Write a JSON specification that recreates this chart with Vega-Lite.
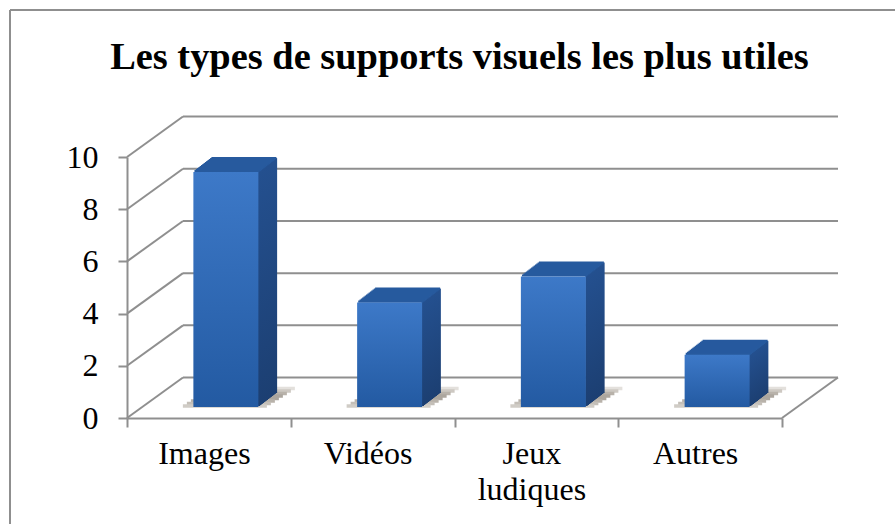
{
"$schema":"https://vega.github.io/schema/vega-lite/v6.json",
"width":655,"height":261,"autosize":"none",
"padding":{"left":127,"top":157,"right":113,"bottom":106},
"background":"white",
"config":{"view":{"stroke":null},"axisY":{"tickCount":6,"grid":false,"domainColor":"#8f8f8f","domainWidth":2,"tickColor":"#8f8f8f","tickWidth":2,"tickSize":9,"labelFont":"Liberation Serif","labelFontSize":32,"labelColor":"#000000","labelPadding":20}},
"title":{"text":"Les types de supports visuels les plus utiles","font":"Liberation Serif","fontSize":38.4,"fontWeight":"bold","color":"#000000","anchor":"middle","offset":-68,"dx":5},
"layer":[
{"data":{"values":[{}]},"mark":{"type":"rule","color":"#8f8f8f","strokeWidth":2},"encoding":{"x":{"value":-117},"x2":{"value":768},"y":{"value":-147}}},
{"data":{"values":[{}]},"mark":{"type":"rule","color":"#8f8f8f","strokeWidth":2},"encoding":{"x":{"value":-117},"y":{"value":-147},"y2":{"value":367}}},
{"data":{"name":"grid","values":[{"tick":0,"back":1.55},{"tick":2,"back":3.55},{"tick":4,"back":5.55},{"tick":6,"back":7.55},{"tick":8,"back":9.55},{"tick":10,"back":11.55}]},
"mark":{"type":"rule","color":"#8f8f8f","strokeWidth":2},
"encoding":{"x":{"value":56},"x2":{"value":711},"y":{"field":"back","type":"quantitative","title":null,"scale":{"domain":[0,10],"nice":false}}}},
{"data":{"name":"grid"},"mark":{"type":"rule","color":"#8f8f8f","strokeWidth":2},"encoding":{"x":{"value":0},"x2":{"value":56},"y":{"field":"tick","type":"quantitative","title":null},"y2":{"field":"back"}}},
{"data":{"values":[{"tick":0,"back":1.55}]},"mark":{"type":"rule","color":"#8f8f8f","strokeWidth":2},"encoding":{"x":{"value":655},"x2":{"value":711},"y":{"field":"tick","type":"quantitative","title":null},"y2":{"field":"back"}}},
{"data":{"values":[{"category":"Images","value":9},{"category":"Vidéos","value":4},{"category":"Jeux ludiques","value":5},{"category":"Autres","value":2}]},
"encoding":{"x":{"field":"category","type":"nominal","sort":null,"scale":{"padding":0},
"axis":{"title":null,"labelAngle":0,"labelAlign":"center","labelFont":"Liberation Serif","labelFontSize":32,"labelColor":"#000000","labelPadding":11,"labelLineHeight":36,"labelOffset":-5,"tickBand":"extent","tickColor":"#8f8f8f","tickWidth":2,"tickSize":9,"domainColor":"#8f8f8f","domainWidth":2,"labelExpr":"datum.label == 'Jeux ludiques' ? ['Jeux','ludiques'] : datum.label"}},
"y":{"field":"value","type":"quantitative","title":null}},
"layer":[
{"mark":{"type":"tick","orient":"horizontal","size":84,"thickness":3.5,"opacity":1,"color":"#e3e0dc","xOffset":44,"yOffset":-29.5},"encoding":{"y":{"datum":0,"title":null}}},
{"mark":{"type":"tick","orient":"horizontal","size":84,"thickness":3.5,"opacity":1,"color":"#cdc8c2","xOffset":40,"yOffset":-27},"encoding":{"y":{"datum":0,"title":null}}},
{"mark":{"type":"tick","orient":"horizontal","size":84,"thickness":3.5,"opacity":1,"color":"#b8b2aa","xOffset":36,"yOffset":-24.5},"encoding":{"y":{"datum":0,"title":null}}},
{"mark":{"type":"tick","orient":"horizontal","size":84,"thickness":3.5,"opacity":1,"color":"#aca69e","xOffset":32,"yOffset":-22},"encoding":{"y":{"datum":0,"title":null}}},
{"mark":{"type":"tick","orient":"horizontal","size":84,"thickness":3.5,"opacity":1,"color":"#aca69e","xOffset":28,"yOffset":-19.5},"encoding":{"y":{"datum":0,"title":null}}},
{"mark":{"type":"tick","orient":"horizontal","size":84,"thickness":3.5,"opacity":1,"color":"#b8b2aa","xOffset":24,"yOffset":-17},"encoding":{"y":{"datum":0,"title":null}}},
{"mark":{"type":"tick","orient":"horizontal","size":84,"thickness":3.5,"opacity":1,"color":"#c4bfb8","xOffset":20,"yOffset":-14.5},"encoding":{"y":{"datum":0,"title":null}}},
{"mark":{"type":"tick","orient":"horizontal","size":84,"thickness":3.5,"opacity":1,"color":"#d0ccc6","xOffset":16,"yOffset":-12},"encoding":{"y":{"datum":0,"title":null}}},
{"mark":{"type":"bar","size":2.5,"xOffset":67,"yOffset":-25,"fill":{"x1":0,"y1":0,"x2":0,"y2":1,"gradient":"linear","stops":[{"offset":0,"color":"#24508f"},{"offset":1,"color":"#1c3f72"}]}}},
{"mark":{"type":"bar","size":2.5,"xOffset":65.7,"yOffset":-24,"fill":{"x1":0,"y1":0,"x2":0,"y2":1,"gradient":"linear","stops":[{"offset":0,"color":"#24508f"},{"offset":1,"color":"#1c3f72"}]}}},
{"mark":{"type":"bar","size":2.5,"xOffset":64.4,"yOffset":-23,"fill":{"x1":0,"y1":0,"x2":0,"y2":1,"gradient":"linear","stops":[{"offset":0,"color":"#24508f"},{"offset":1,"color":"#1c3f72"}]}}},
{"mark":{"type":"bar","size":2.5,"xOffset":63.1,"yOffset":-22,"fill":{"x1":0,"y1":0,"x2":0,"y2":1,"gradient":"linear","stops":[{"offset":0,"color":"#24508f"},{"offset":1,"color":"#1c3f72"}]}}},
{"mark":{"type":"bar","size":2.5,"xOffset":61.8,"yOffset":-21,"fill":{"x1":0,"y1":0,"x2":0,"y2":1,"gradient":"linear","stops":[{"offset":0,"color":"#24508f"},{"offset":1,"color":"#1c3f72"}]}}},
{"mark":{"type":"bar","size":2.5,"xOffset":60.5,"yOffset":-20,"fill":{"x1":0,"y1":0,"x2":0,"y2":1,"gradient":"linear","stops":[{"offset":0,"color":"#24508f"},{"offset":1,"color":"#1c3f72"}]}}},
{"mark":{"type":"bar","size":2.5,"xOffset":59.2,"yOffset":-19,"fill":{"x1":0,"y1":0,"x2":0,"y2":1,"gradient":"linear","stops":[{"offset":0,"color":"#24508f"},{"offset":1,"color":"#1c3f72"}]}}},
{"mark":{"type":"bar","size":2.5,"xOffset":57.9,"yOffset":-18,"fill":{"x1":0,"y1":0,"x2":0,"y2":1,"gradient":"linear","stops":[{"offset":0,"color":"#24508f"},{"offset":1,"color":"#1c3f72"}]}}},
{"mark":{"type":"bar","size":2.5,"xOffset":56.6,"yOffset":-17,"fill":{"x1":0,"y1":0,"x2":0,"y2":1,"gradient":"linear","stops":[{"offset":0,"color":"#24508f"},{"offset":1,"color":"#1c3f72"}]}}},
{"mark":{"type":"bar","size":2.5,"xOffset":55.3,"yOffset":-16,"fill":{"x1":0,"y1":0,"x2":0,"y2":1,"gradient":"linear","stops":[{"offset":0,"color":"#24508f"},{"offset":1,"color":"#1c3f72"}]}}},
{"mark":{"type":"bar","size":2.5,"xOffset":54,"yOffset":-15,"fill":{"x1":0,"y1":0,"x2":0,"y2":1,"gradient":"linear","stops":[{"offset":0,"color":"#24508f"},{"offset":1,"color":"#1c3f72"}]}}},
{"mark":{"type":"bar","size":2.5,"xOffset":52.7,"yOffset":-14,"fill":{"x1":0,"y1":0,"x2":0,"y2":1,"gradient":"linear","stops":[{"offset":0,"color":"#24508f"},{"offset":1,"color":"#1c3f72"}]}}},
{"mark":{"type":"bar","size":2.5,"xOffset":51.4,"yOffset":-13,"fill":{"x1":0,"y1":0,"x2":0,"y2":1,"gradient":"linear","stops":[{"offset":0,"color":"#24508f"},{"offset":1,"color":"#1c3f72"}]}}},
{"mark":{"type":"bar","size":2.5,"xOffset":50.1,"yOffset":-12,"fill":{"x1":0,"y1":0,"x2":0,"y2":1,"gradient":"linear","stops":[{"offset":0,"color":"#24508f"},{"offset":1,"color":"#1c3f72"}]}}},
{"mark":{"type":"tick","orient":"horizontal","size":65,"thickness":2.2,"opacity":1,"color":"#275a9e","xOffset":35,"yOffset":-25}},
{"mark":{"type":"tick","orient":"horizontal","size":65,"thickness":2.2,"opacity":1,"color":"#275a9e","xOffset":33.7,"yOffset":-24}},
{"mark":{"type":"tick","orient":"horizontal","size":65,"thickness":2.2,"opacity":1,"color":"#275a9e","xOffset":32.4,"yOffset":-23}},
{"mark":{"type":"tick","orient":"horizontal","size":65,"thickness":2.2,"opacity":1,"color":"#275a9e","xOffset":31.1,"yOffset":-22}},
{"mark":{"type":"tick","orient":"horizontal","size":65,"thickness":2.2,"opacity":1,"color":"#275a9e","xOffset":29.8,"yOffset":-21}},
{"mark":{"type":"tick","orient":"horizontal","size":65,"thickness":2.2,"opacity":1,"color":"#275a9e","xOffset":28.5,"yOffset":-20}},
{"mark":{"type":"tick","orient":"horizontal","size":65,"thickness":2.2,"opacity":1,"color":"#275a9e","xOffset":27.2,"yOffset":-19}},
{"mark":{"type":"tick","orient":"horizontal","size":65,"thickness":2.2,"opacity":1,"color":"#275a9e","xOffset":25.9,"yOffset":-18}},
{"mark":{"type":"tick","orient":"horizontal","size":65,"thickness":2.2,"opacity":1,"color":"#275a9e","xOffset":24.6,"yOffset":-17}},
{"mark":{"type":"tick","orient":"horizontal","size":65,"thickness":2.2,"opacity":1,"color":"#275a9e","xOffset":23.3,"yOffset":-16}},
{"mark":{"type":"tick","orient":"horizontal","size":65,"thickness":2.2,"opacity":1,"color":"#275a9e","xOffset":22,"yOffset":-15}},
{"mark":{"type":"tick","orient":"horizontal","size":65,"thickness":2.2,"opacity":1,"color":"#275a9e","xOffset":20.7,"yOffset":-14}},
{"mark":{"type":"tick","orient":"horizontal","size":65,"thickness":2.2,"opacity":1,"color":"#275a9e","xOffset":19.4,"yOffset":-13}},
{"mark":{"type":"tick","orient":"horizontal","size":65,"thickness":2.2,"opacity":1,"color":"#275a9e","xOffset":18.1,"yOffset":-12}},
{"mark":{"type":"bar","size":65,"xOffset":17,"yOffset":-11,"fill":{"x1":0,"y1":0,"x2":0,"y2":1,"gradient":"linear","stops":[{"offset":0,"color":"#3d79c8"},{"offset":1,"color":"#235aa2"}]}}}
]}
]}
